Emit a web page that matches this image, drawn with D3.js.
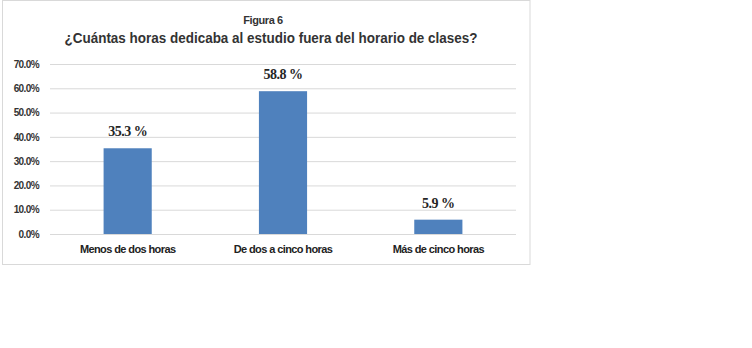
<!DOCTYPE html>
<html>
<head>
<meta charset="utf-8">
<script src="https://cdn.jsdelivr.net/npm/d3@7"></script>
<style>
  body { margin: 0; background: #fff; }
  text { font-family: "Liberation Sans", Arial, sans-serif; }
</style>
</head>
<body>
<div id="chart"></div>
<script>
// data
const figureLabel = 'Figura 6';
const chartTitle = '¿Cuántas horas dedicaba al estudio fuera del horario de clases?';
const categories = [ 'Menos de dos horas', 'De dos a cinco horas', 'Más de cinco horas' ];
const values = [ 0.353, 0.588, 0.059 ];
const valueLabels = [ '35.3 %', '58.8 %', '5.9 %' ];
const yTicks = [ 0, 0.1, 0.2, 0.3, 0.4, 0.5, 0.6, 0.7 ];

const figure_width = 752, figure_height = 348;
const plot = { left: 50, right: 516, top: 64, bottom: 234 };

const svg = d3.select( '#chart' )
  .append( 'svg' )
    .attr( 'width', figure_width )
    .attr( 'height', figure_height );

// chart frame
svg.append( 'rect' )
  .attr( 'x', 2.5 ).attr( 'y', 0.5 )
  .attr( 'width', 527.5 ).attr( 'height', 264 )
  .attr( 'fill', '#fff' )
  .attr( 'stroke', '#d9d9d9' );

// titles
svg.append( 'text' )
  .attr( 'x', 263 ).attr( 'y', 24 )
  .attr( 'text-anchor', 'middle' )
  .attr( 'font-size', 11 ).attr( 'font-weight', 'bold' )
  .attr( 'letter-spacing', -0.4 )
  .attr( 'fill', '#333' )
  .text( figureLabel );

svg.append( 'text' )
  .attr( 'x', 271 ).attr( 'y', 43 )
  .attr( 'text-anchor', 'middle' )
  .attr( 'font-size', 15 )
  .attr( 'textLength', 413 ).attr( 'lengthAdjust', 'spacingAndGlyphs' )
  .attr( 'fill', '#333' )
  .style( 'font-weight', 600 )
  .text( chartTitle );

// scales
const x = d3.scaleBand()
  .domain( categories )
  .range( [ plot.left, plot.right ] )
  .paddingInner( 0.69 )
  .paddingOuter( 0.345 );

const y = d3.scaleLinear()
  .domain( [ 0, 0.7 ] )
  .range( [ plot.bottom, plot.top ] );

// y axis with gridlines
const yAxis = svg.append( 'g' )
  .attr( 'transform', 'translate(' + plot.left + ',0)' )
  .call( d3.axisLeft( y ).tickValues( yTicks ).tickFormat( d3.format( '.1%' ) )
    .tickSize( -( plot.right - plot.left ) ).tickPadding( 11 ) );
yAxis.select( '.domain' ).remove();
yAxis.selectAll( 'line' ).attr( 'stroke', '#d9d9d9' );
yAxis.selectAll( 'text' )
  .attr( 'font-size', 10 ).attr( 'font-weight', 'bold' )
  .attr( 'letter-spacing', -0.6 )
  .attr( 'fill', '#333' )
  .style( 'font-family', '"Liberation Sans", Arial, sans-serif' );

// x axis labels
const xAxis = svg.append( 'g' )
  .attr( 'transform', 'translate(0,' + plot.bottom + ')' )
  .call( d3.axisBottom( x ).tickSize( 0 ).tickPadding( 11 ) );
xAxis.select( '.domain' ).remove();
xAxis.selectAll( 'text' )
  .attr( 'font-size', 11 ).attr( 'font-weight', 'bold' )
  .attr( 'letter-spacing', -0.6 )
  .attr( 'fill', '#222' )
  .style( 'font-family', '"Liberation Sans", Arial, sans-serif' );

// bars
svg.append( 'g' )
  .selectAll( 'rect' )
  .data( values )
  .enter().append( 'rect' )
    .attr( 'x', function( d, i ) { return x( categories[i] ); } )
    .attr( 'y', function( d ) { return y( d ); } )
    .attr( 'width', x.bandwidth() )
    .attr( 'height', function( d ) { return plot.bottom - y( d ); } )
    .attr( 'fill', '#4f81bd' );

// value labels
svg.append( 'g' )
  .selectAll( 'text' )
  .data( values )
  .enter().append( 'text' )
    .attr( 'x', function( d, i ) { return x( categories[i] ) + x.bandwidth() / 2; } )
    .attr( 'y', function( d ) { return y( d ) - 12; } )
    .attr( 'text-anchor', 'middle' )
    .attr( 'font-size', 14 ).attr( 'font-weight', 'bold' )
    .attr( 'letter-spacing', -0.5 )
    .attr( 'fill', '#262626' )
    .style( 'font-family', '"Liberation Serif", "Times New Roman", serif' )
    .text( function( d, i ) { return valueLabels[i]; } );
</script>
</body>
</html>
